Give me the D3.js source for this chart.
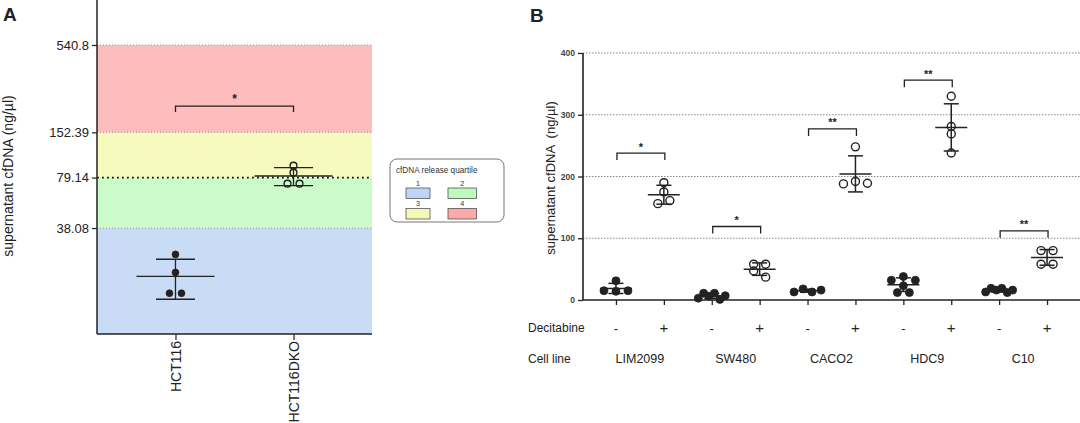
<!DOCTYPE html>
<html><head><meta charset="utf-8">
<script src="https://cdn.jsdelivr.net/npm/d3@7"></script>
<style>body{margin:0;background:#fff}svg{display:block;font-family:Arial,"Liberation Sans",sans-serif}</style>
</head><body><svg id="c" width="1080" height="423"></svg>
<script>
// ---------- Panel A data ----------
const aCategories = ["HCT116", "HCT116DKO"];
const aHCT116 = [26, 20, 14.8, 14.8];
const aHCT116DKO = [94, 85, 72.5, 72.5];
const aTickValues = [38.08, 79.14, 152.39, 540.8];
const aTickLabels = ["38.08", "79.14", "152.39", "540.8"];
const aQuartiles = ["1", "2", "3", "4"];
const aBracket = {from: "HCT116", to: "HCT116DKO", value: 223, label: "*"};
const aLegendTitle = "cfDNA release quartile";
const aYLabel = "supernatant cfDNA (ng/\u00b5l)";

// ---------- Panel B data ----------
const bCellLines = ["LIM2099", "SW480", "CACO2", "HDC9", "C10"];
const bDecitabine = ["-", "+"];
const bUntreated = [
  [31, 15, 14, 15],
  [3, 11, 6, 11, 1, 7],
  [13, 18, 13, 16],
  [32, 38, 32, 23, 12, 12],
  [13, 19, 16, 19, 12, 16]
];
const bTreated = [
  [190, 175, 156, 161],
  [58, 58, 47, 37],
  [248, 188, 192, 189],
  [330, 281, 269, 238],
  [80, 80, 58, 58]
];
const bBracketValues = [238, 119, 277, 356, 112];
const bBracketLabels = ["*", "*", "**", "**", "**"];
const bYTicks = [0, 100, 200, 300, 400];
const bYLabel = "supernatant cfDNA  (ng/\u00b5l)";

const svg = d3.select("#c");
const ink = "#222";

function meanSd(v) {
  const m = d3.mean(v), s = d3.deviation(v);
  return {m, s};
}
// dodge points horizontally when their pixel y are close
function dodge(vals, y, spacing, maxW) {
  const items = vals.map((v, i) => ({v, i, py: y(v)}));
  const sorted = items.slice().sort((a, b) => a.py - b.py);
  const clusters = [];
  sorted.forEach(p => {
    const c = clusters[clusters.length - 1];
    if (c && p.py - c[0].py < 6.5) c.push(p); else clusters.push([p]);
  });
  const off = new Array(vals.length).fill(0);
  clusters.forEach(c => {
    c.sort((a, b) => a.i - b.i);
    const n = c.length;
    const sp = n > 1 ? Math.min(spacing, maxW / (n - 1)) : 0;
    c.forEach((p, k) => off[p.i] = (k - (n - 1) / 2) * sp);
  });
  return items.map(p => ({v: p.v, py: p.py, dx: off[p.i]}));
}
function drawGroup(g, vals, cx, y, opts) {
  const {m, s} = meanSd(vals);
  g.append("line").attr("x1", cx).attr("x2", cx).attr("y1", y(m + s)).attr("y2", y(m - s))
    .attr("stroke", ink).attr("stroke-width", opts.sw);
  [m + s, m - s].forEach(v => g.append("line").attr("x1", cx - opts.sdW / 2).attr("x2", cx + opts.sdW / 2)
    .attr("y1", y(v)).attr("y2", y(v)).attr("stroke", ink).attr("stroke-width", opts.sw));
  g.append("line").attr("x1", cx - opts.mW / 2).attr("x2", cx + opts.mW / 2)
    .attr("y1", y(m)).attr("y2", y(m)).attr("stroke", ink).attr("stroke-width", opts.sw);
  dodge(vals, y, opts.spacing, opts.maxW).forEach(p => {
    g.append("circle").attr("cx", cx + p.dx).attr("cy", p.py).attr("r", opts.r)
      .attr("fill", opts.open ? "#fff" : ink).attr("fill-opacity", opts.open ? 0 : 1)
      .attr("stroke", ink).attr("stroke-width", opts.open ? 1.4 : 0.8);
  });
}

// ================= Panel A =================
const aL = 97, aR = 372, aB = 334;
const yA = d3.scaleLog().domain([8.2, 1038]).range([aB, 0]);
const xA = d3.scalePoint().domain(aCategories).range([aL, aR]).padding(0.665);
const gA = svg.append("g");
const bandColors = ["#c8dcf5", "#cafbc8", "#f6fabf", "#fdbdbd"];
const bandEdges = [yA.domain()[0], ...aTickValues];
bandEdges.slice(0, 4).forEach((lo, i) => {
  const hi = bandEdges[i + 1];
  gA.append("rect").attr("x", aL).attr("width", aR - aL).attr("y", yA(hi)).attr("height", yA(lo) - yA(hi))
    .attr("fill", bandColors[i]);
});
aTickValues.forEach(v => {
  const med = v === 79.14;
  gA.append("line").attr("x1", aL).attr("x2", aR).attr("y1", yA(v)).attr("y2", yA(v))
    .attr("stroke", med ? "#111" : "#999").attr("stroke-width", med ? 1.8 : 1)
    .attr("stroke-dasharray", med ? "1.8,3.2" : "1,2");
});
// axes
const axA = d3.axisLeft(yA).tickValues(aTickValues).tickFormat((d, i) => aTickLabels[i]).tickSize(5).tickPadding(3);
const gAy = gA.append("g").attr("transform", `translate(${aL},0)`).call(axA);
gAy.select(".domain").remove();
gAy.selectAll("text").attr("font-size", 13).attr("fill", ink).attr("font-family", "Arial, Liberation Sans");
gAy.selectAll("line").attr("stroke", ink).attr("stroke-width", 1.2);
gA.append("line").attr("x1", aL).attr("x2", aL).attr("y1", 0).attr("y2", aB).attr("stroke", ink).attr("stroke-width", 1.5);
const axAx = d3.axisBottom(xA).tickSize(6).tickFormat("");
const gAx = gA.append("g").attr("transform", `translate(0,${aB})`).call(axAx);
gAx.select(".domain").remove();
gAx.selectAll("line").attr("stroke", ink).attr("stroke-width", 1.2);
gA.append("line").attr("x1", aL).attr("x2", aR).attr("y1", aB).attr("y2", aB).attr("stroke", ink).attr("stroke-width", 1.5);
aCategories.forEach(c => {
  gA.append("text").attr("transform", `translate(${xA(c)},341) rotate(-90)`).attr("text-anchor", "end")
    .attr("dy", "0.36em").attr("font-size", 14).attr("fill", ink).text(c);
});
gA.append("text").attr("transform", "translate(13,176) rotate(-90)").attr("text-anchor", "middle")
  .attr("font-size", 14).attr("fill", ink).text(aYLabel);
gA.append("text").attr("x", 3).attr("y", 21).attr("font-size", 19).attr("font-weight", "bold").attr("fill", ink).text("A");
// groups
drawGroup(gA, aHCT116, xA("HCT116"), yA, {sw: 1.3, sdW: 39, mW: 78, r: 3.4, open: false, spacing: 12, maxW: 27});
drawGroup(gA, aHCT116DKO, xA("HCT116DKO"), yA, {sw: 1.3, sdW: 39, mW: 78, r: 3.4, open: true, spacing: 12, maxW: 27});
// bracket
{
  const yb = yA(aBracket.value), x1 = xA(aBracket.from), x2 = xA(aBracket.to);
  gA.append("path").attr("d", `M${x1},${yb + 6}V${yb}H${x2}V${yb + 6}`).attr("fill", "none").attr("stroke", ink).attr("stroke-width", 1.3);
  gA.append("text").attr("x", (x1 + x2) / 2).attr("y", yb - 3).attr("text-anchor", "middle").attr("font-size", 12).attr("font-weight", "bold").attr("fill", ink).text(aBracket.label);
}
// legend
{
  const lg = svg.append("g");
  lg.append("rect").attr("x", 390).attr("y", 159).attr("width", 114).attr("height", 63).attr("rx", 7)
    .attr("fill", "#fff").attr("stroke", "#777").attr("stroke-width", 1);
  lg.append("text").attr("x", 396).attr("y", 173).attr("font-size", 8.2).attr("fill", "#333").text(aLegendTitle);
  const legColors = ["#bed6f5", "#bff9bd", "#f3f8b4", "#fca9a9"];
  aQuartiles.forEach((q, i) => {
    const col = i % 2, row = Math.floor(i / 2);
    const x = col ? 448 : 406, y = row ? 208.5 : 188;
    lg.append("rect").attr("x", x).attr("y", y).attr("width", col ? 28.5 : 24).attr("height", 10.5)
      .attr("fill", legColors[i]).attr("stroke", "#555").attr("stroke-width", 0.8);
    lg.append("text").attr("x", x + (col ? 14.2 : 12)).attr("y", y - 2.5).attr("text-anchor", "middle")
      .attr("font-size", 7.2).attr("fill", "#333").text(q);
  });
}

// ================= Panel B =================
const bL = 583, bR = 1080, bB = 300;
const yB = d3.scaleLinear().domain([0, 400]).range([bB, 53]);
const keys = [];
bCellLines.forEach(c => bDecitabine.forEach(d => keys.push(c + d)));
const xB = d3.scalePoint().domain(keys).range([bL, bR]).padding(0.688);
const gB = svg.append("g");
bYTicks.filter(v => v > 0).forEach(v => {
  gB.append("line").attr("x1", bL).attr("x2", bR).attr("y1", yB(v)).attr("y2", yB(v))
    .attr("stroke", "#888").attr("stroke-width", 1).attr("stroke-dasharray", "1.5,1.5");
});
const axBy = d3.axisLeft(yB).tickValues(bYTicks).tickSize(5).tickPadding(3);
const gBy = gB.append("g").attr("transform", `translate(${bL},0)`).call(axBy);
gBy.select(".domain").remove();
gBy.selectAll("text").attr("font-size", 8.5).attr("font-weight", "bold").attr("fill", "#444").attr("font-family", "Arial, Liberation Sans");
gBy.selectAll("line").attr("stroke", ink).attr("stroke-width", 1.3);
gB.append("line").attr("x1", bL).attr("x2", bL).attr("y1", yB(400)).attr("y2", bB).attr("stroke", ink).attr("stroke-width", 1.6);
const axBx = d3.axisBottom(xB).tickSize(5).tickFormat("");
const gBx = gB.append("g").attr("transform", `translate(0,${bB})`).call(axBx);
gBx.select(".domain").remove();
gBx.selectAll("line").attr("stroke", ink).attr("stroke-width", 1.3);
gB.append("line").attr("x1", bL).attr("x2", bR).attr("y1", bB).attr("y2", bB).attr("stroke", ink).attr("stroke-width", 1.6);
gB.append("text").attr("transform", "translate(555,178) rotate(-90)").attr("text-anchor", "middle")
  .attr("font-size", 13).attr("fill", ink).attr("xml:space", "preserve").style("white-space", "pre").text(bYLabel);
gB.append("text").attr("x", 530).attr("y", 22).attr("font-size", 19).attr("font-weight", "bold").attr("fill", ink).text("B");
gB.append("text").attr("x", 528).attr("y", 332).attr("font-size", 12).attr("fill", ink).text("Decitabine");
gB.append("text").attr("x", 528).attr("y", 363).attr("font-size", 12).attr("fill", ink).text("Cell line");
bCellLines.forEach((c, i) => {
  bDecitabine.forEach(d => {
    gB.append("text").attr("x", xB(c + d)).attr("y", 333).attr("text-anchor", "middle")
      .attr("font-size", d === "+" ? 15 : 13).attr("fill", ink).text(d);
  });
  gB.append("text").attr("x", (xB(c + "-") + xB(c + "+")) / 2).attr("y", 363).attr("text-anchor", "middle")
    .attr("font-size", 12.5).attr("fill", ink).text(c);
  const opt = {sw: 1.5, sdW: 15, mW: 32, r: 4, spacing: 12, maxW: 27};
  drawGroup(gB, bUntreated[i], xB(c + "-"), yB, Object.assign({open: false}, opt));
  drawGroup(gB, bTreated[i], xB(c + "+"), yB, Object.assign({open: true}, opt));
  const yb = yB(bBracketValues[i]), x1 = xB(c + "-") + 1, x2 = xB(c + "+") + 1;
  gB.append("path").attr("d", `M${x1},${yb + 7}V${yb}H${x2}V${yb + 7}`).attr("fill", "none").attr("stroke", ink).attr("stroke-width", 1.3);
  gB.append("text").attr("x", (x1 + x2) / 2).attr("y", yb - 2.5).attr("text-anchor", "middle")
    .attr("font-size", 11).attr("font-weight", "bold").attr("fill", ink).text(bBracketLabels[i]);
});
</script></body></html>
